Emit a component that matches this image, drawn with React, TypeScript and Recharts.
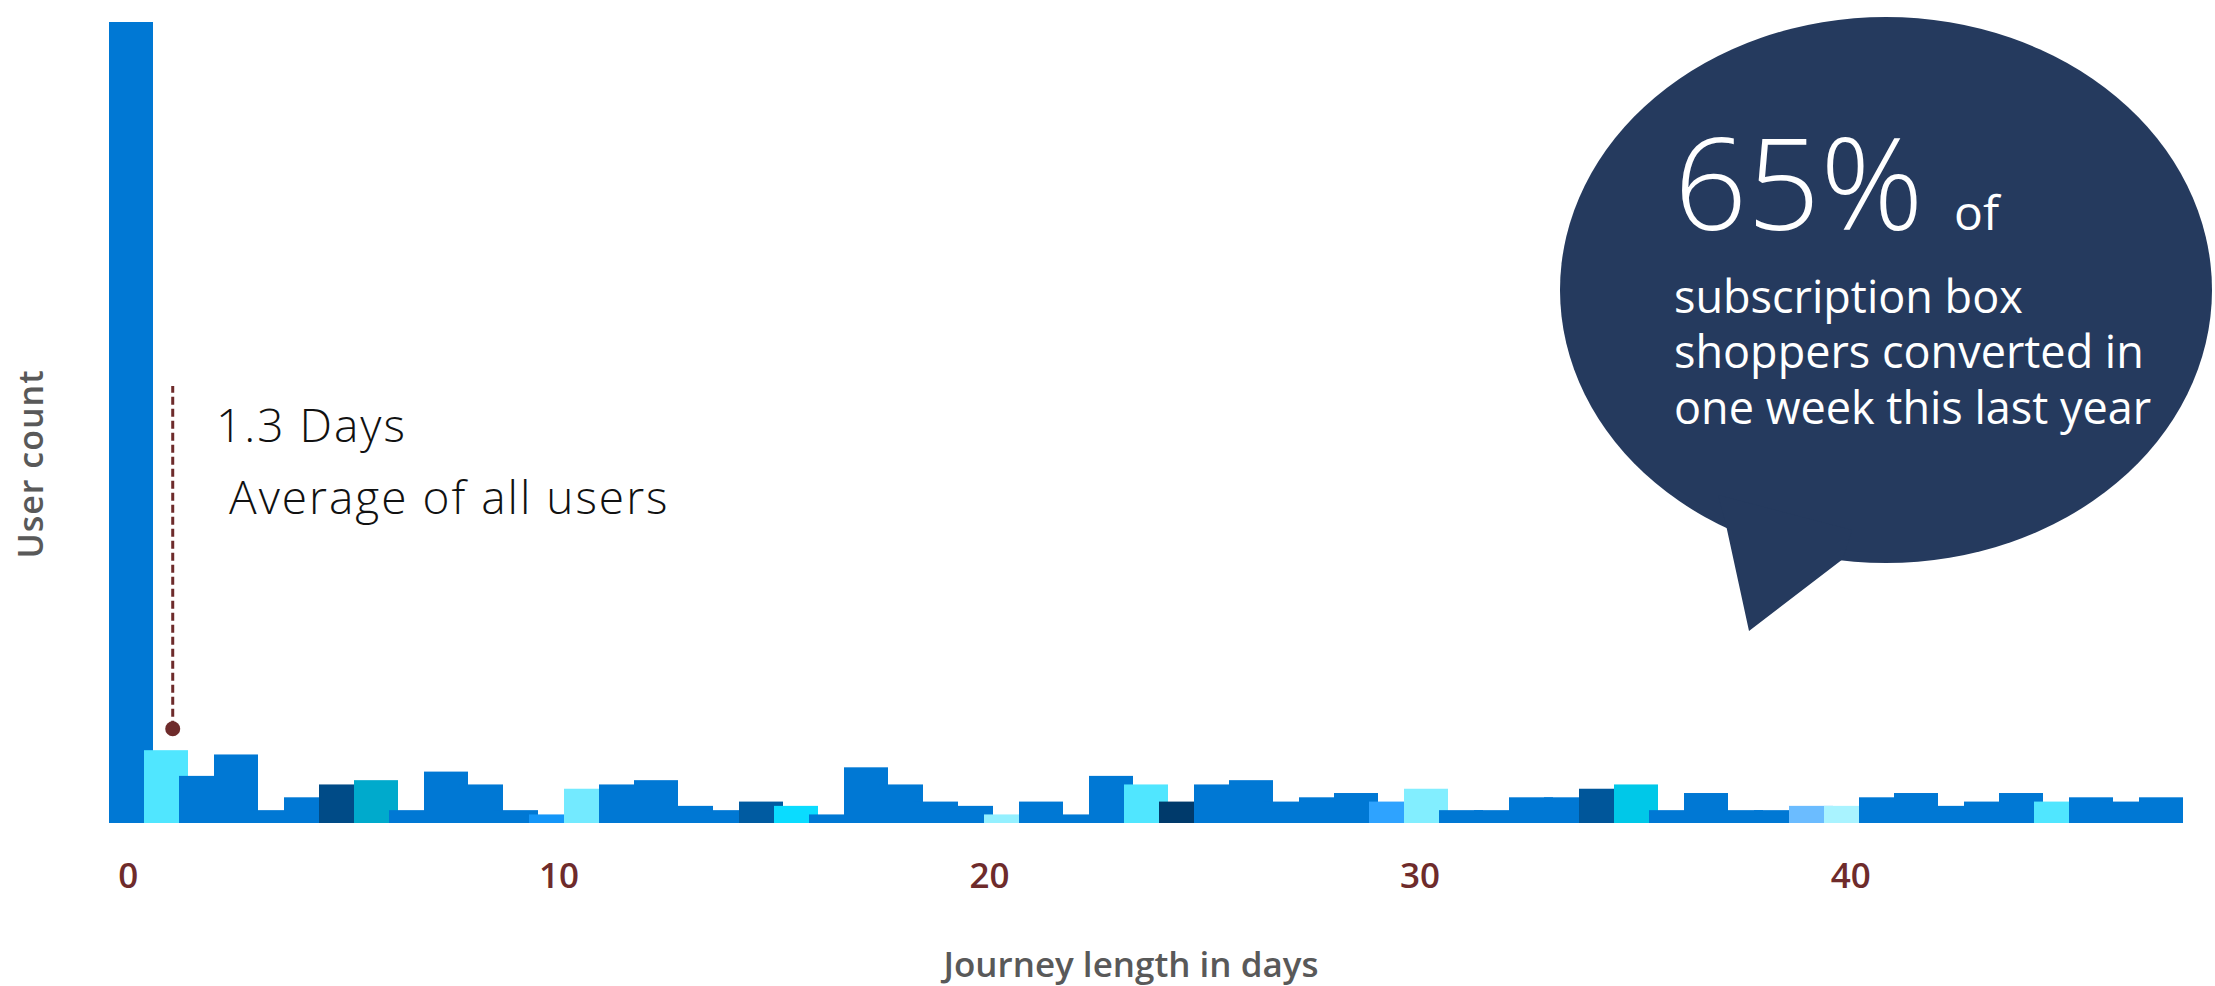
import { Bar, BarChart, Cell, ReferenceDot, ReferenceLine, XAxis, YAxis } from "recharts"

// user count per journey-length bin (bins are a bit narrower than a day)
const userCounts = [
  187, 17, 11, 16, 3, 6, 9, 10, 3, 12, 9, 3, 2, 8, 9, 10, 4, 3, 5, 4,
  2, 13, 9, 5, 4, 2, 5, 2, 11, 9, 5, 9, 10, 5, 6, 7, 5, 8, 3, 3,
  6, 6, 8, 9, 3, 7, 3, 3, 4, 4, 6, 7, 4, 5, 7, 5, 6, 5, 6,
]

const dayTicks = [0, 10, 20, 30, 40]
const dayDomain = [-0.45, 47.51]

// average marker (placed on the day axis)
const avgDay = 1.03
const avgDotCount = 22
const avgTopCount = 102

const B = "#0078D4"
const barColors = [
  B, "#50E6FF", B, B, B, B, "#004B87", "#00AACC", B, B,
  B, B, "#1496F8", "#73EAFF", B, B, B, B, "#005BA1", "#0ADCFF",
  B, B, B, B, B, "#94F0FF", B, B, B, "#50E6FF",
  "#003A6B", B, B, B, B, B, "#2EA3FF", "#82EEFF", B, B,
  B, B, "#00569A", "#00C8E8", B, B, B, B, "#6BBCFF", "#A9F3FF",
  B, B, B, B, B, "#50E6FF", B, B, B,
]

const data = userCounts.map((count, i) => ({ bin: i, count }))

const FONT = "'Open Sans', 'Noto Sans', sans-serif"
const MAROON = "#6E2B2B"

// bars in the original are a little wider than their slot and overlap the next one
const WideBar = (props: any) => {
  const { x, y, width, height, fill } = props
  return <rect x={x} y={y} width={width * 1.257} height={height} fill={fill} />
}

export default function App() {
  return (
    <div style={{ position: "absolute", left: 0, top: 0, width: 2215, height: 986, background: "#fff" }}>
      <BarChart
        width={2215}
        height={986}
        data={data}
        margin={{ top: 22, right: 41, left: 109, bottom: 0 }}
        barCategoryGap={0}
        barGap={0}
      >
        <XAxis xAxisId="bins" dataKey="bin" hide />
        {/* day scale only carries the tick labels and the average marker */}
        <XAxis
          xAxisId="days"
          dataKey="day"
          type="number"
          domain={dayDomain}
          allowDataOverflow
          ticks={dayTicks}
          height={163}
          axisLine={false}
          tickLine={false}
          tickSize={0}
          tickMargin={10}
          tick={{ fill: MAROON, fontSize: 35, fontWeight: 600, fontFamily: FONT }}
        />
        <YAxis hide domain={[0, 187]} allowDataOverflow />
        <Bar dataKey="count" xAxisId="bins" isAnimationActive={false} shape={WideBar}>
          {data.map((d, i) => (
            <Cell key={d.bin} fill={barColors[i]} />
          ))}
        </Bar>
        <ReferenceLine
          xAxisId="days"
          segment={[
            { x: avgDay, y: avgDotCount },
            { x: avgDay, y: avgTopCount },
          ]}
          stroke={MAROON}
          strokeWidth={3}
          strokeDasharray="8 4"
        />
        <ReferenceDot xAxisId="days" x={avgDay} y={avgDotCount} r={7.5} fill={MAROON} stroke="none" />
      </BarChart>

      <svg width={2215} height={986} style={{ position: "absolute", left: 0, top: 0, pointerEvents: "none" }}>
        <text
          x={30}
          y={464}
          transform="rotate(-90 30 464)"
          textAnchor="middle"
          dominantBaseline="central"
          fontFamily={FONT}
          fontSize={34}
          fontWeight={600}
          letterSpacing={1}
          fill="#595959"
        >
          User count
        </text>
        <text x={1131} y={977} textAnchor="middle" fontFamily={FONT} fontSize={35} fontWeight={600} fill="#595959">
          Journey length in days
        </text>

        <text x={216} y={442} fontFamily={FONT} fontSize={46} fontWeight={300} letterSpacing={2} fill="#111">
          1.3 Days
        </text>
        <text x={229} y={514} fontFamily={FONT} fontSize={46} fontWeight={300} letterSpacing={2} fill="#111">
          Average of all users
        </text>

        <g fill="#253A5E">
          <ellipse cx={1886} cy={290} rx={326} ry={273} />
          <polygon points="1718,495 1726,525 1749,631 1843,559 1852,530" />
        </g>
        <text x={1674} y={230} fontFamily={FONT} fontSize={128} fontWeight={300} fill="#fff">
          65%
        </text>
        <text x={1954} y={230} fontFamily={FONT} fontSize={48} fill="#fff">
          of
        </text>
        <g fontFamily={FONT} fontSize={45} fill="#fff">
          <text x={1674} y={313}>subscription box</text>
          <text x={1674} y={368}>shoppers converted in</text>
          <text x={1674} y={424}>one week this last year</text>
        </g>
      </svg>
    </div>
  )
}
